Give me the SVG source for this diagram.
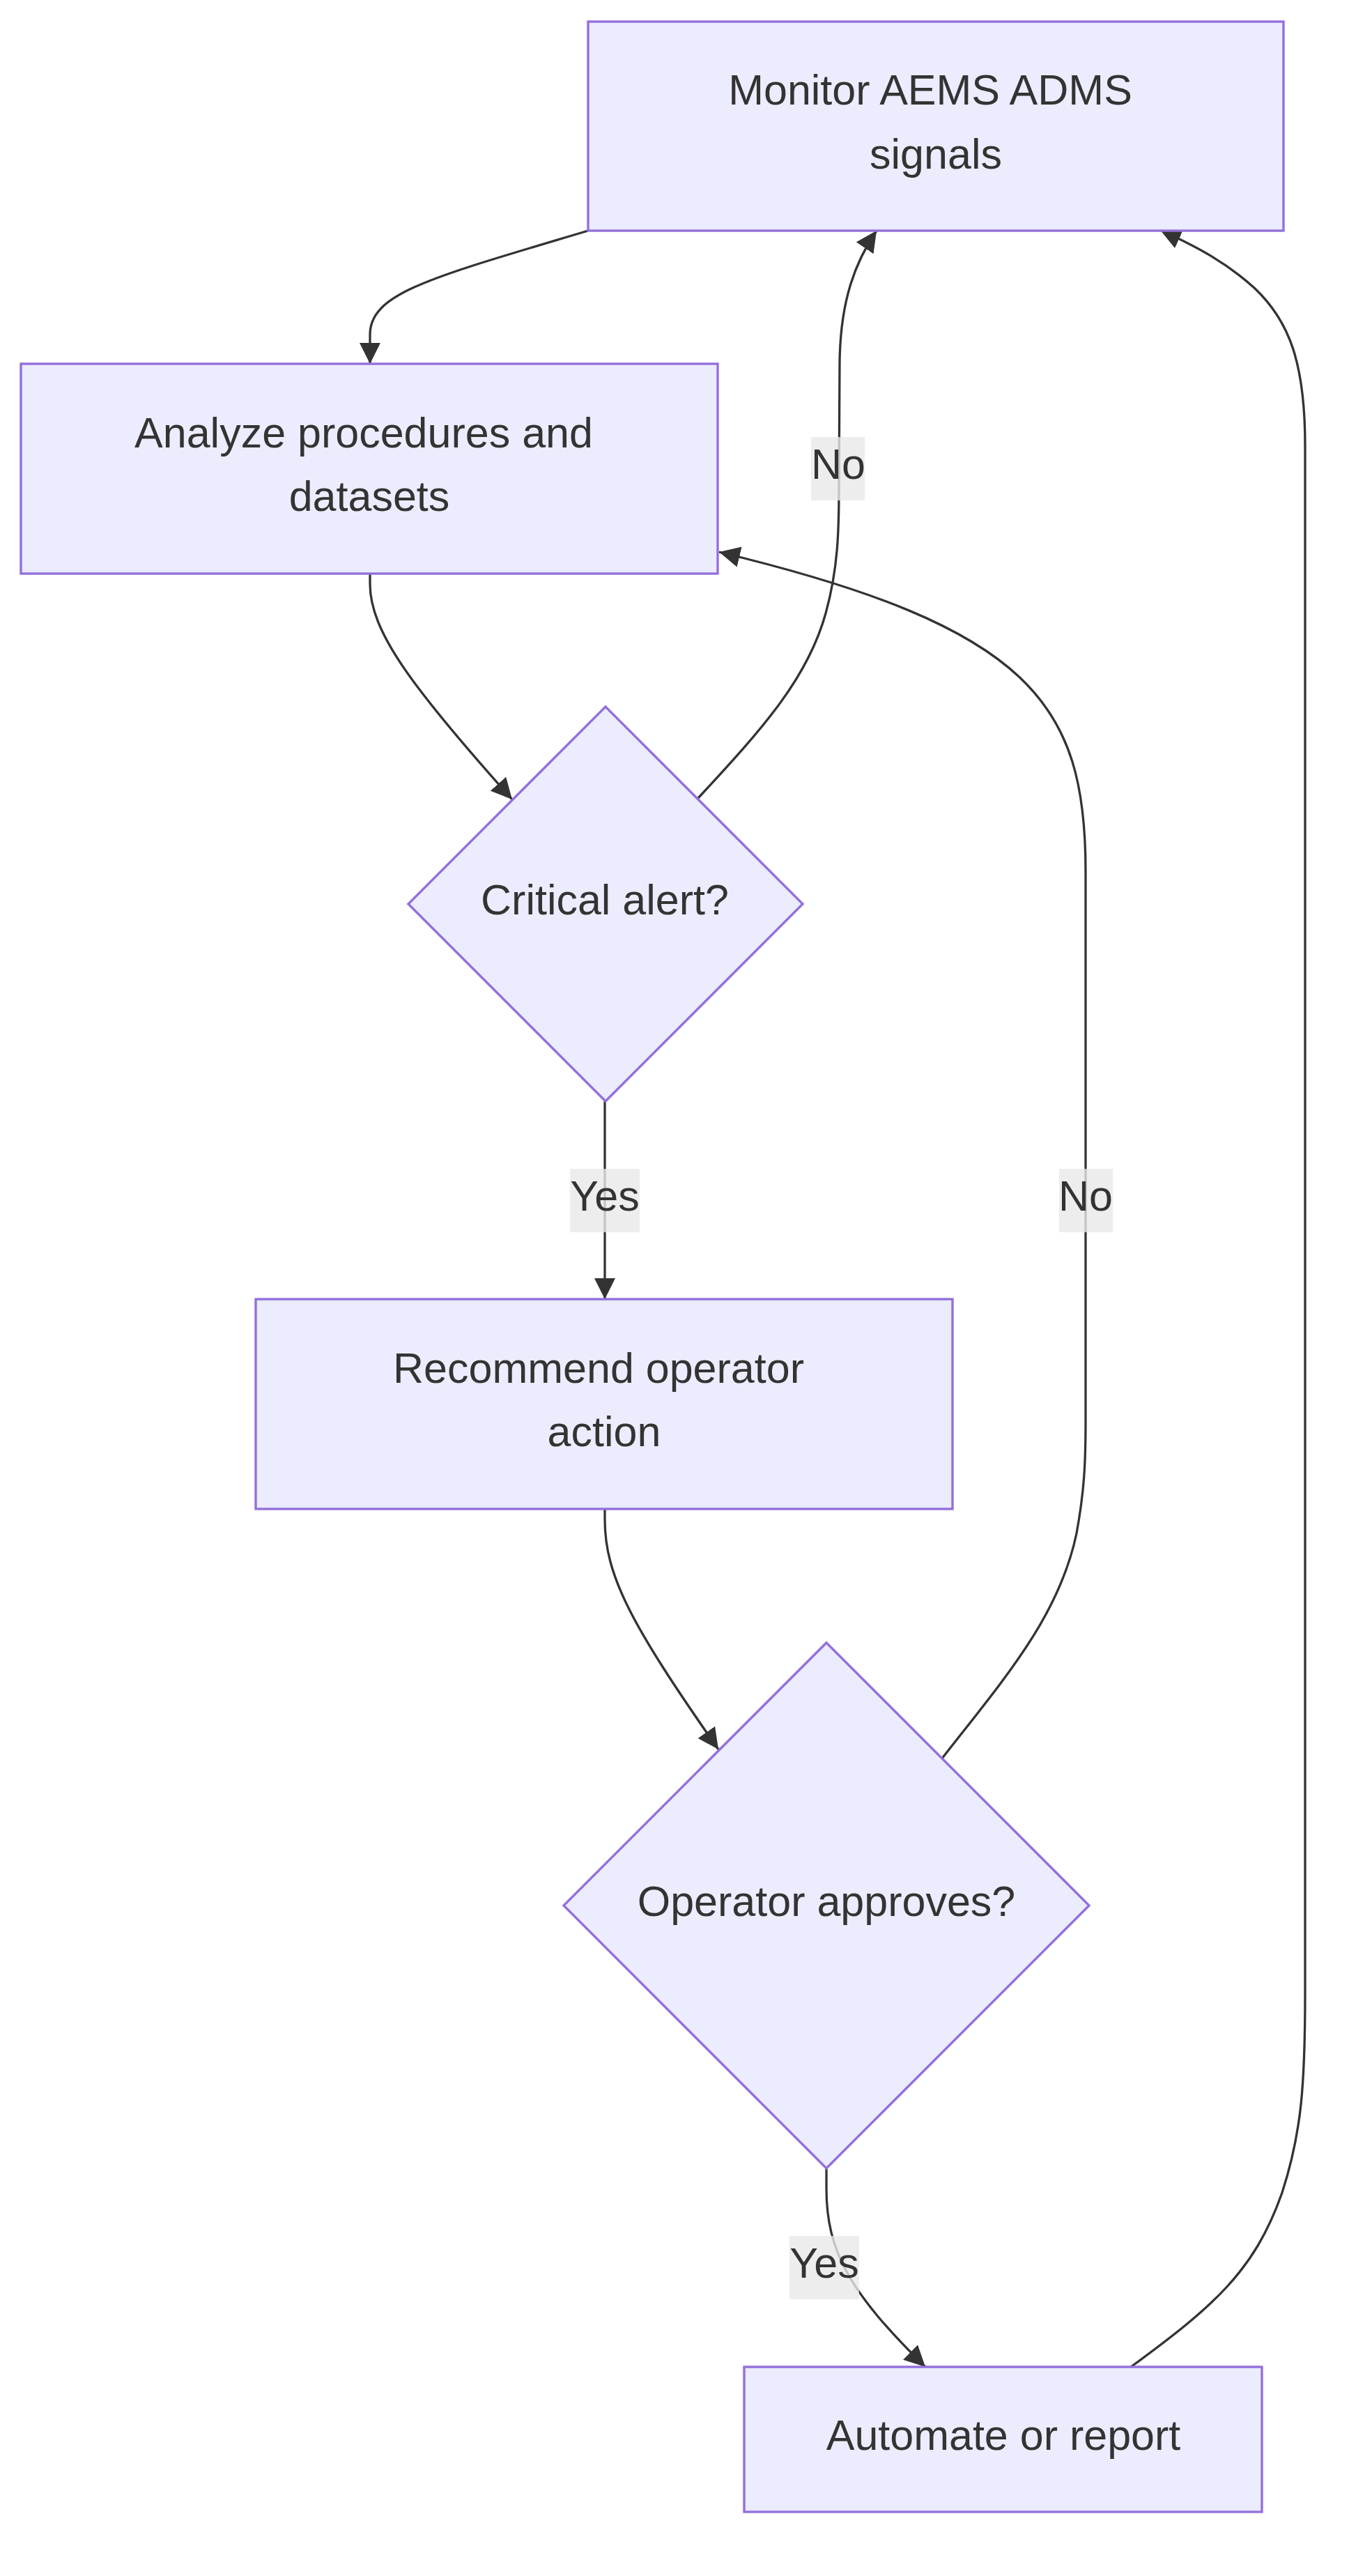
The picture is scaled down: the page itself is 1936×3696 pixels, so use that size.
<svg xmlns="http://www.w3.org/2000/svg" width="1936" height="3696" viewBox="0 0 1936 3696">
<style>
.node{fill:#ECECFF;stroke:#9370DB;stroke-width:3.4}
.edge{fill:none;stroke:#333333;stroke-width:3.3}
.t{font-family:"Liberation Sans",Arial,Helvetica,sans-serif;font-size:61px;fill:#333333;text-anchor:middle}
.lbl{fill:#e8e8e8;opacity:0.8}
</style>
<defs>
<marker id="arrow" viewBox="0 0 10 10" refX="10" refY="5" markerUnits="userSpaceOnUse" markerWidth="30" markerHeight="30" orient="auto">
<path d="M0,0 L10,5 L0,10 z" fill="#333333"/>
</marker>
</defs>
<rect width="1936" height="3696" fill="#ffffff"/>
<g id="connectors">
<path class="edge" marker-end="url(#arrow)" d="M844,331 C620,398 531,420 531,480 L531,522"/>
<path class="edge" marker-end="url(#arrow)" d="M531,823 L531,838 C531,905 590,985 735,1147"/>
<path class="edge" marker-end="url(#arrow)" d="M1002,1145 C1100,1040 1160,970 1185,880 C1203,815 1204,760 1204,700 L1205,520 C1206,430 1228,375 1258,331"/>
<path class="edge" marker-end="url(#arrow)" d="M868,1580 L868,1864"/>
<path class="edge" marker-end="url(#arrow)" d="M868,2165 L868,2180 C868,2260 905,2330 1031,2510"/>
<path class="edge" marker-end="url(#arrow)" d="M1352,2523 C1440,2410 1520,2320 1545,2200 C1556,2140 1558,2100 1558,2040 L1558,1250 C1558,1010 1480,900 1032,792"/>
<path class="edge" marker-end="url(#arrow)" d="M1186,3111 L1186,3140 C1186,3230 1220,3290 1328,3396"/>
<path class="edge" marker-end="url(#arrow)" d="M1623,3396 C1740,3310 1800,3260 1840,3146 C1868,3060 1873,2990 1873,2860 L1873,640 C1873,520 1850,460 1800,413 C1760,377 1720,355 1665,330"/>
</g>
<g id="edge-labels">
<g id="label-no-1"><rect class="lbl" x="1164" y="627" width="77" height="91"/><text class="t" x="1203" y="687">No</text></g>
<g id="label-yes-1"><rect class="lbl" x="818" y="1677" width="100" height="91"/><text class="t" x="868" y="1737">Yes</text></g>
<g id="label-no-2"><rect class="lbl" x="1520" y="1677" width="77" height="91"/><text class="t" x="1558" y="1737">No</text></g>
<g id="label-yes-2"><rect class="lbl" x="1133" y="3208" width="100" height="91"/><text class="t" x="1183" y="3268">Yes</text></g>
</g>
<g id="monitor">
<rect class="node" x="844" y="31" width="998" height="300"/>
<text class="t" x="1335" y="150">Monitor AEMS ADMS</text>
<text class="t" x="1343" y="241.5">signals</text>
</g>
<g id="analyze">
<rect class="node" x="30" y="522" width="1000" height="301"/>
<text class="t" x="522" y="642">Analyze procedures and</text>
<text class="t" x="530" y="733">datasets</text>
</g>
<g id="critical">
<polygon class="node" points="869,1014 1152,1297 869,1580 586,1297"/>
<text class="t" x="868" y="1312">Critical alert?</text>
</g>
<g id="recommend">
<rect class="node" x="367" y="1864" width="1000" height="301"/>
<text class="t" x="859" y="1984">Recommend operator</text>
<text class="t" x="867" y="2075">action</text>
</g>
<g id="operator">
<polygon class="node" points="1186,2357 1563,2734 1186,3111 809,2734"/>
<text class="t" x="1186" y="2749">Operator approves?</text>
</g>
<g id="automate">
<rect class="node" x="1068" y="3396" width="743" height="208"/>
<text class="t" x="1440" y="3515">Automate or report</text>
</g>
</svg>
